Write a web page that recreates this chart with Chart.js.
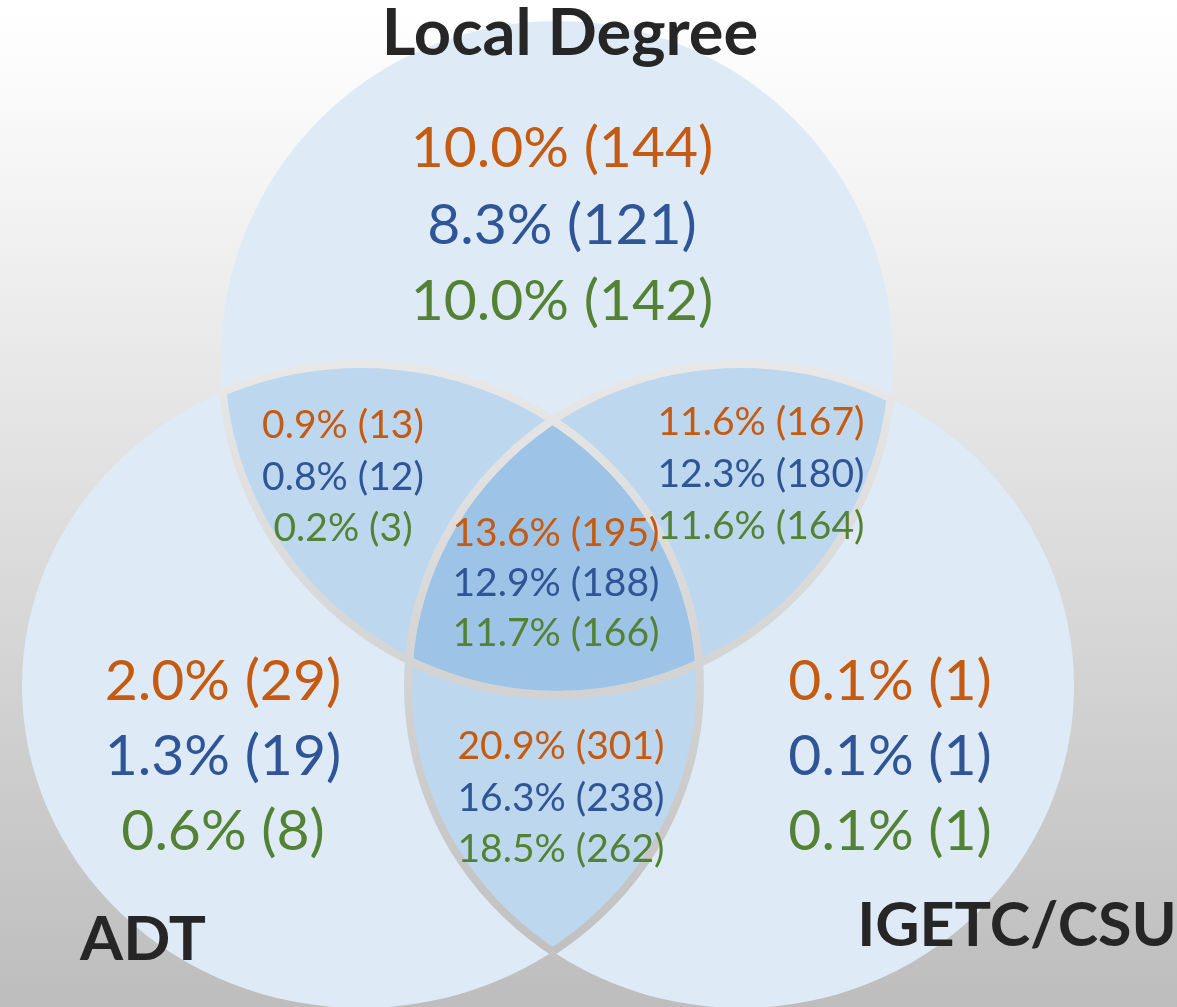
<!DOCTYPE html>
<html>
<head>
<meta charset="utf-8">
<script src="https://cdn.jsdelivr.net/npm/chart.js@4"></script>
<style>
  html, body { margin: 0; padding: 0; background: #ffffff; }
  #wrap { width: 1177px; height: 1007px; position: relative; }
</style>
</head>
<body>
<div id="wrap"><canvas id="c"></canvas></div>
<script>
// ---- Data ----
const setNames = ['Local Degree', 'ADT', 'IGETC/CSU'];
const regions = ['Local Degree only', 'Local Degree & ADT', 'Local Degree & IGETC/CSU',
                 'All three', 'ADT & IGETC/CSU', 'ADT only', 'IGETC/CSU only'];
const pctOrange = [10.0, 0.9, 11.6, 13.6, 20.9, 2.0, 0.1];
const cntOrange = [144, 13, 167, 195, 301, 29, 1];
const pctBlue   = [8.3, 0.8, 12.3, 12.9, 16.3, 1.3, 0.1];
const cntBlue   = [121, 12, 180, 188, 238, 19, 1];
const pctGreen  = [10.0, 0.2, 11.6, 11.7, 18.5, 0.6, 0.1];
const cntGreen  = [142, 3, 164, 166, 262, 8, 1];

// ---- Layout (positions in axis units) ----
const ellipses = [
  { cx: 557, cy: 358, rx: 336, ry: 337 },  // Local Degree
  { cx: 361, cy: 686, rx: 339, ry: 322 },  // ADT
  { cx: 741, cy: 686, rx: 333, ry: 322 }   // IGETC/CSU
];
const setLabelPos = [
  { x: 570, y: 55, size: 65 }, { x: 143, y: 960, size: 62 }, { x: 1017, y: 946, size: 61 }
];
const regionLabelPos = [
  { x: 562, y: 167, dy: 76.5, size: 57 },
  { x: 343, y: 438, dy: 51.5, size: 39 },
  { x: 761, y: 435, dy: 52,   size: 39 },
  { x: 556, y: 546, dy: 50,   size: 39 },
  { x: 561, y: 759, dy: 51.5, size: 39 },
  { x: 223, y: 700, dy: 75,   size: 57 },
  { x: 890, y: 700, dy: 75,   size: 57 }
];
const seriesColors = ['#c55a11', '#2f5597', '#548235'];
const fillOne = '#deebf7', fillTwo = '#bdd7ee', fillThree = '#9dc3e6';

function fmt(p, c) { return p.toFixed(1) + '% (' + c + ')'; }

const vennPlugin = {
  id: 'venn',
  beforeDraw(chart) {
    const ctx = chart.ctx;
    const xs = chart.scales.x, ys = chart.scales.y;
    const W = chart.width, H = chart.height;
    const bg = ctx.createLinearGradient(0, ys.getPixelForValue(0), 0, ys.getPixelForValue(1007));
    bg.addColorStop(0, '#ffffff');
    bg.addColorStop(0.08, '#fbfbfb');
    bg.addColorStop(1, '#bdbdbd');
    ctx.save();
    ctx.fillStyle = bg;
    ctx.fillRect(0, 0, W, H);

    const E = ellipses.map(e => {
      const px = xs.getPixelForValue(e.cx), py = ys.getPixelForValue(e.cy);
      return {
        x: px, y: py,
        rx: Math.abs(xs.getPixelForValue(e.cx + e.rx) - px),
        ry: Math.abs(ys.getPixelForValue(e.cy + e.ry) - py)
      };
    });
    const path = (e) => { ctx.beginPath(); ctx.ellipse(e.x, e.y, e.rx, e.ry, 0, 0, Math.PI * 2); };

    // single circles
    E.forEach(e => { path(e); ctx.fillStyle = fillOne; ctx.fill(); });
    // pairwise overlaps
    for (let i = 0; i < 3; i++) for (let j = i + 1; j < 3; j++) {
      ctx.save(); path(E[i]); ctx.clip(); path(E[j]); ctx.fillStyle = fillTwo; ctx.fill(); ctx.restore();
    }
    // triple overlap
    ctx.save(); path(E[0]); ctx.clip(); path(E[1]); ctx.clip(); path(E[2]);
    ctx.fillStyle = fillThree; ctx.fill(); ctx.restore();
    // separating gaps (background showing through) inside other circles
    for (let i = 0; i < 3; i++) for (let j = 0; j < 3; j++) {
      if (i === j) continue;
      ctx.save(); path(E[i]); ctx.clip(); path(E[j]);
      ctx.lineWidth = 8; ctx.strokeStyle = bg; ctx.stroke(); ctx.restore();
    }

    // region labels
    const pcts = [pctOrange, pctBlue, pctGreen];
    const cnts = [cntOrange, cntBlue, cntGreen];
    ctx.textAlign = 'center';
    ctx.textBaseline = 'alphabetic';
    regionLabelPos.forEach((p, r) => {
      ctx.font = p.size + 'px Lato, "Open Sans", sans-serif';
      for (let s = 0; s < 3; s++) {
        ctx.fillStyle = seriesColors[s];
        ctx.fillText(fmt(pcts[s][r], cnts[s][r]),
          xs.getPixelForValue(p.x), ys.getPixelForValue(p.y + s * p.dy));
      }
    });
    // set labels
    ctx.fillStyle = '#262626';
    setNames.forEach((n, i) => {
      const p = setLabelPos[i];
      ctx.font = 'bold ' + p.size + 'px Lato, "Open Sans", sans-serif';
      ctx.fillText(n, xs.getPixelForValue(p.x), ys.getPixelForValue(p.y));
    });
    ctx.restore();
  }
};

new Chart(document.getElementById('c'), {
  type: 'scatter',
  data: { datasets: [{ label: 'regions', data: [], pointRadius: 0 }] },
  options: {
    responsive: true,
    maintainAspectRatio: false,
    animation: false,
    events: [],
    layout: { padding: 0 },
    scales: {
      x: { type: 'linear', min: 0, max: 1177, display: false },
      y: { type: 'linear', min: 0, max: 1007, reverse: true, display: false }
    },
    plugins: { legend: { display: false }, tooltip: { enabled: false } }
  },
  plugins: [vennPlugin]
});
</script>
</body>
</html>
